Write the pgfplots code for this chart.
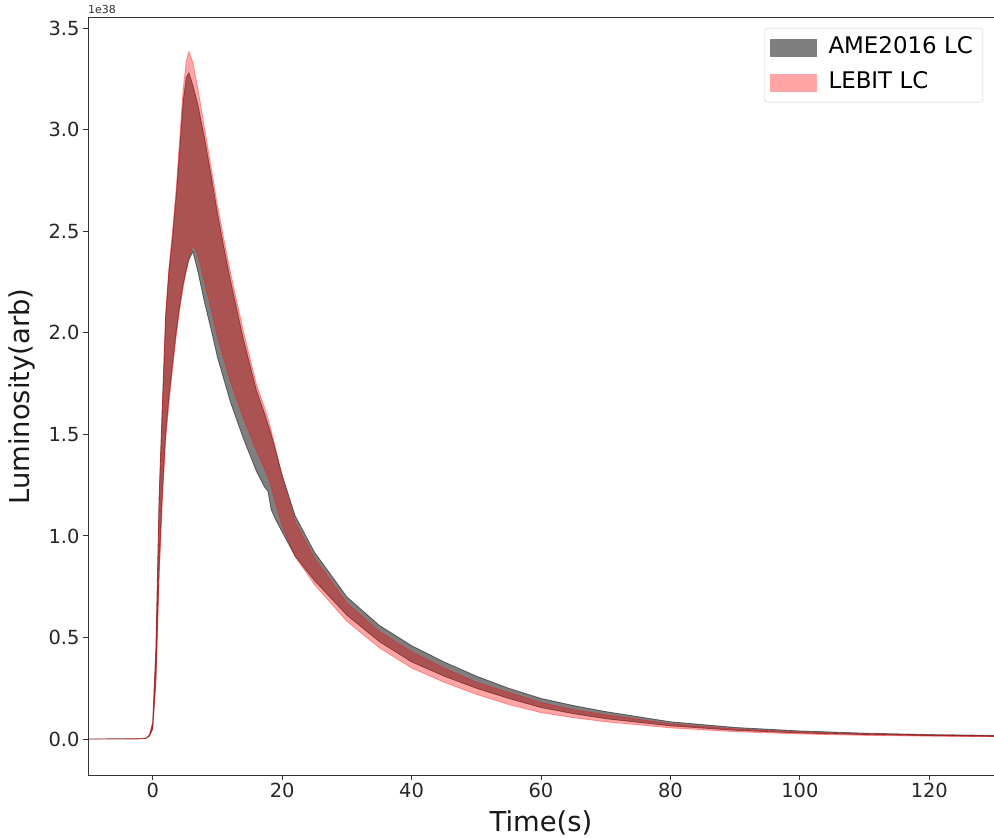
\documentclass[border=0pt]{standalone}
\usepackage{fontspec}
\setmainfont{DejaVu Sans}
\usepackage{pgfplots}
\pgfplotsset{compat=1.18}
\usepgfplotslibrary{fillbetween}
\usepackage{pgfplotstable}

% x, AME upper, LEBIT upper, AME lower, LEBIT lower  (units of 1e38)
\pgfplotstableread{
x     Au     Lu     Al     Ll
-10   0      0      0      0
-2    0.002  0.002  0.001  0.001
-1    0.005  0.005  0.004  0.004
-0.5  0.02   0.02   0.015  0.015
0     0.08   0.08   0.05   0.05
0.5   0.45   0.45   0.30   0.28
1     1.20   1.20   0.85   0.80
1.5   1.65   1.66   1.22   1.18
2     2.08   2.10   1.50   1.47
2.5   2.30   2.32   1.68   1.65
3     2.45   2.48   1.83   1.80
3.65  2.68   2.72   2.01   1.99
4.2   2.92   2.97   2.14   2.12
4.7   3.14   3.20   2.24   2.22
5.2   3.26   3.34   2.31   2.31
5.6   3.28   3.385  2.36   2.37
6.2   3.22   3.33   2.40   2.43
7     3.12   3.20   2.30   2.38
8     2.96   3.01   2.15   2.25
9     2.78   2.82   2.02   2.12
10    2.59   2.63   1.88   1.98
11    2.42   2.46   1.77   1.87
12    2.26   2.30   1.66   1.76
14    1.97   2.01   1.48   1.58
16    1.72   1.75   1.32   1.42
17.3  1.60   1.63   1.24   1.33
17.8  1.55   1.58   1.22   1.29
18.3  1.50   1.52   1.13   1.24
19    1.42   1.43   1.08   1.16
20    1.30   1.29   1.02   1.05
22    1.10   1.07   0.90   0.90
25    0.92   0.89   0.78   0.76
30    0.70   0.67   0.61   0.58
35    0.56   0.53   0.48   0.45
40    0.46   0.43   0.38   0.35
45    0.38   0.35   0.31   0.28
50    0.31   0.28   0.25   0.22
55    0.25   0.23   0.20   0.17
60    0.20   0.18   0.155  0.13
65    0.165  0.145  0.125  0.105
70    0.135  0.12   0.10   0.085
80    0.085  0.075  0.065  0.055
90    0.057  0.05   0.043  0.036
100   0.04   0.035  0.03   0.025
110   0.029  0.026  0.022  0.018
120   0.022  0.02   0.017  0.014
130   0.018  0.016  0.013  0.011
}\lc

\begin{document}
\begin{tikzpicture}
\begin{axis}[
  scale only axis,
  width=906bp, height=757bp,
  xmin=-10, xmax=130,
  ymin=-0.177, ymax=3.55,
  xtick={0,20,40,60,80,100,120},
  ytick={0,0.5,1,1.5,2,2.5,3,3.5},
  yticklabels={0.0,0.5,1.0,1.5,2.0,2.5,3.0,3.5},
  /pgf/number format/assume math mode=true,
  tick align=outside,
  major tick length=5bp,
  tick style={black!80, line width=0.9bp},
  xtick pos=bottom, ytick pos=left,
  axis line style={black!80, line width=1bp},
  ticklabel style={font=\fontsize{19.5}{22}\selectfont, text=black!85},
  xlabel={Time(s)},
  ylabel={Luminosity(arb)},
  label style={font=\fontsize{27.5}{30}\selectfont, text=black!90},
  xlabel style={at={(axis description cs:0.5,0)}, anchor=center, yshift=-48bp},
  ylabel style={at={(axis description cs:0,0.5)}, anchor=center, yshift=66bp},
  legend style={at={(rel axis cs:1,1)}, anchor=north east, xshift=-11bp, yshift=-10bp,
    font=\fontsize{23}{27}\selectfont, draw=black!20, rounded corners=3bp,
    fill=white, fill opacity=0.8, text opacity=1,
    inner xsep=5bp, inner ysep=2bp, column sep=7bp,
    nodes={inner xsep=5bp, inner ysep=7bp, text height=16bp, text depth=5bp}},
  legend cell align=left,
  clip=true,
]
\addplot[draw=none, name path=Au, forget plot] table[x=x, y=Au] {\lc};
\addplot[draw=none, name path=Al, forget plot] table[x=x, y=Al] {\lc};
\addplot[draw=none, name path=Lu, forget plot] table[x=x, y=Lu] {\lc};
\addplot[draw=none, name path=Ll, forget plot] table[x=x, y=Ll] {\lc};

\addplot[fill=black, fill opacity=0.5, draw=black, draw opacity=0.5, line width=0.8bp, forget plot] fill between[of=Au and Al];
\addplot[fill=red, fill opacity=0.35, draw=red, draw opacity=0.35, line width=0.8bp, forget plot] fill between[of=Lu and Ll];

\addlegendimage{legend image code/.code={\path[draw=none, sharp corners, fill=black, fill opacity=0.5] (0bp,-9bp) rectangle (47bp,9bp);}}
\addlegendentry{AME2016 LC}
\addlegendimage{legend image code/.code={\path[draw=none, sharp corners, fill=red, fill opacity=0.35] (0bp,-9bp) rectangle (47bp,9bp);}}
\addlegendentry{LEBIT LC}
\end{axis}
\node[anchor=south west, inner sep=0pt, font=\fontsize{11}{12}\selectfont, text=black!80, yshift=4bp] at (current axis.north west) {1e38};
\pgfresetboundingbox
\path[use as bounding box] ([xshift=-88bp, yshift=-63bp]current axis.south west) rectangle ([yshift=18bp]current axis.north east);
\end{tikzpicture}
\end{document}
